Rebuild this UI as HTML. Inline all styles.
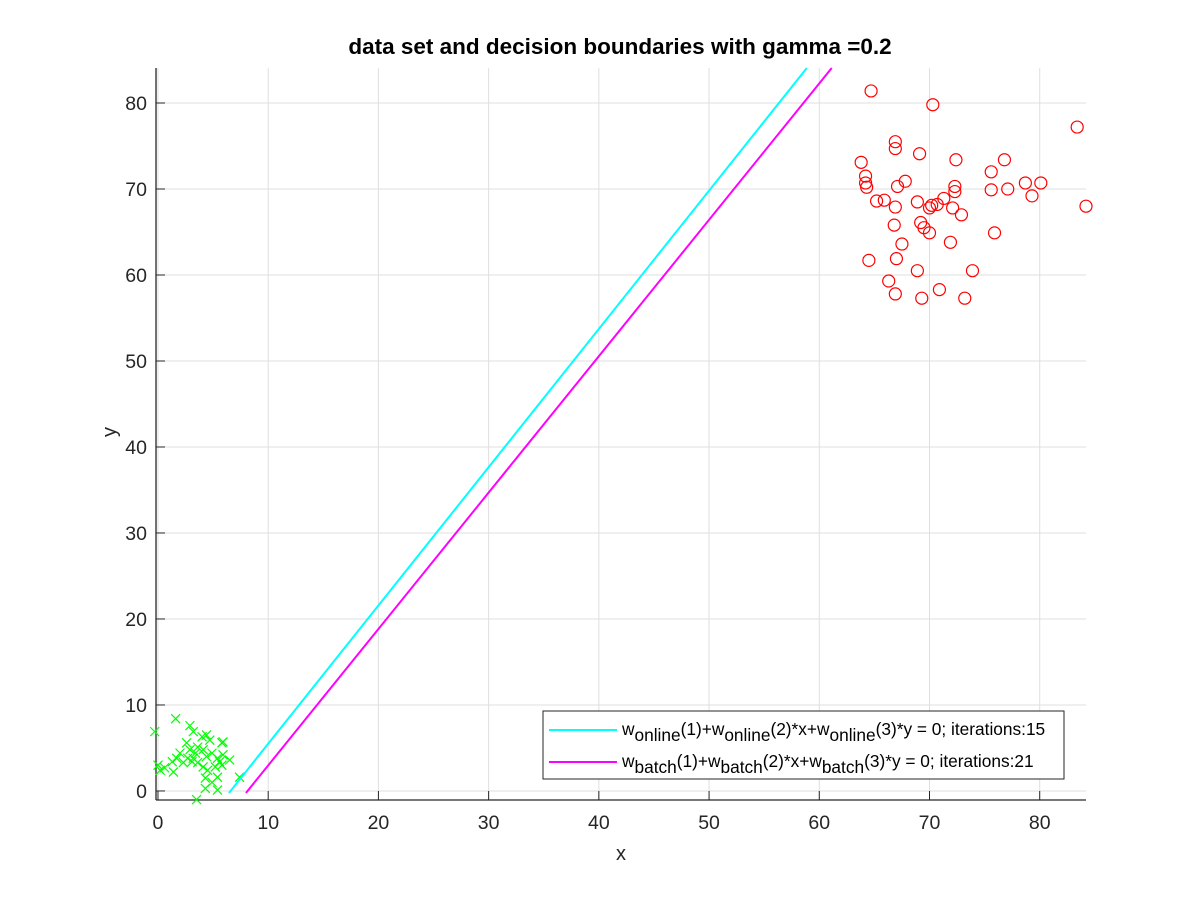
<!DOCTYPE html>
<html><head><meta charset="utf-8"><style>
html,body{margin:0;padding:0;background:#fff;}
svg{display:block;font-family:"Liberation Sans",Arial,sans-serif;}
</style></head><body>
<svg id="chart" width="1200" height="900" viewBox="0 0 1200 900" xmlns="http://www.w3.org/2000/svg">
<rect width="1200" height="900" fill="#fff"/>
<text x="620" y="54" text-anchor="middle" font-size="22.5" font-weight="bold" fill="#000">data set and decision boundaries with gamma =0.2</text>
<g id="grid"></g>
<g id="axes"></g>
<g id="marks"></g>
<text x="621" y="860" text-anchor="middle" font-size="20" fill="#262626">x</text>
<text transform="translate(116,432) rotate(-90)" text-anchor="middle" font-size="20" fill="#262626">y</text>
<g>
<rect x="543" y="711" width="521" height="68" fill="#fff" stroke="#262626" stroke-width="1"/>
<line x1="549" y1="730" x2="617" y2="730" stroke="#00ffff" stroke-width="2"/>
<line x1="549" y1="762" x2="617" y2="762" stroke="#ff00ff" stroke-width="2"/>
<text x="622" y="735" font-size="17.3" fill="#000">w<tspan dy="6">online</tspan><tspan dy="-6">(1)+w</tspan><tspan dy="6">online</tspan><tspan dy="-6">(2)*x+w</tspan><tspan dy="6">online</tspan><tspan dy="-6">(3)*y = 0; iterations:15</tspan></text>
<text x="622" y="767" font-size="17.3" fill="#000">w<tspan dy="6">batch</tspan><tspan dy="-6">(1)+w</tspan><tspan dy="6">batch</tspan><tspan dy="-6">(2)*x+w</tspan><tspan dy="6">batch</tspan><tspan dy="-6">(3)*y = 0; iterations:21</tspan></text>
</g>
</svg>
<script>
const xTicks=[0,10,20,30,40,50,60,70,80];
const yTicks=[0,10,20,30,40,50,60,70,80];
const redX=[64.7,70.3,83.4,66.9,66.9,69.1,63.8,72.4,76.8,75.6,64.2,64.2,64.3,67.1,67.8,78.7,80.1,75.6,77.1,72.3,72.3,65.2,65.9,66.9,68.9,70.0,70.2,70.7,71.3,72.1,79.3,84.2,72.9,66.8,69.2,69.5,70.0,67.5,71.9,75.9,64.5,67.0,68.9,73.9,66.3,66.9,70.9,69.3,73.2];
const redY=[81.4,79.8,77.2,75.5,74.7,74.1,73.1,73.4,73.4,72.0,71.5,70.7,70.2,70.3,70.9,70.7,70.7,69.9,70.0,70.3,69.7,68.6,68.7,67.9,68.5,67.8,68.1,68.2,68.9,67.8,69.2,68.0,67.0,65.8,66.1,65.5,64.9,63.6,63.8,64.9,61.7,61.9,60.5,60.5,59.3,57.8,58.3,57.3,57.3];
const greenX=[1.6,-0.3,2.9,3.2,4.4,4.0,4.7,5.9,5.8,2.6,0,0.2,0.6,1.3,1.4,1.7,2.3,2.0,2.9,3.4,3.6,4.1,4.4,4.9,5.4,5.6,5.9,6.5,3.1,3.6,4.1,4.5,5.2,5.8,4.3,5.4,4.9,5.4,4.3,7.4,3.5,2.7,3.2];
const greenY=[8.4,6.9,7.6,6.9,6.5,6.3,5.9,5.7,5.6,5.6,3.0,2.4,2.7,3.4,2.2,3.8,3.3,4.4,4.8,4.4,5.1,4.8,4.0,4.4,3.8,3.4,4.2,3.6,3.4,3.3,2.8,2.4,2.8,3.0,1.5,1.6,1.0,0.1,0.3,1.6,-1.0,3.8,3.8];
const onlineLineX=[6.44,58.87];
const onlineLineY=[-0.23,84.07];
const batchLineX=[7.98,61.13];
const batchLineY=[-0.23,84.07];

const X0=-0.18,X1=84.2,Y0=-1.05,Y1=84.07;
const L=156,R=1086,T=68,B=800;
function sx(v){return L+(v-X0)/(X1-X0)*(R-L);}
function sy(v){return B-(v-Y0)/(Y1-Y0)*(B-T);}
const NS="http://www.w3.org/2000/svg";
function mk(tag,attrs,parent){const e=document.createElementNS(NS,tag);for(const k in attrs)e.setAttribute(k,attrs[k]);parent.appendChild(e);return e;}
const grid=document.getElementById('grid'),axes=document.getElementById('axes'),marks=document.getElementById('marks');
xTicks.forEach(t=>{
  const g=mk('line',{x1:sx(t),x2:sx(t),y1:T,y2:B,stroke:'#dfdfdf','stroke-width':1},grid);
  
  
  mk('line',{x1:sx(t),x2:sx(t),y1:B,y2:B-9,stroke:'#262626','stroke-width':1},axes);
  const tx=mk('text',{x:sx(t),y:B+29,'text-anchor':'middle','font-size':19.5,fill:'#262626'},axes);
  tx.textContent=t;
  
  
});
yTicks.forEach(t=>{
  const g=mk('line',{x1:L,x2:R,y1:sy(t),y2:sy(t),stroke:'#dfdfdf','stroke-width':1},grid);
  
  
  mk('line',{x1:L,x2:L+9,y1:sy(t),y2:sy(t),stroke:'#262626','stroke-width':1},axes);
  const tx=mk('text',{x:L-9,y:sy(t)+7,'text-anchor':'end','font-size':19.5,fill:'#262626'},axes);
  tx.textContent=t;
  
  
});
mk('line',{x1:L,x2:L,y1:T,y2:B,stroke:'#262626','stroke-width':1.3},axes);
mk('line',{x1:L,x2:R,y1:B,y2:B,stroke:'#262626','stroke-width':1.3},axes);
greenX.forEach((v,i)=>{
  const x=sx(v),y=sy(greenY[i]),d=4.5;
  const p=mk('path',{d:`M${x-d},${y-d}L${x+d},${y+d}M${x-d},${y+d}L${x+d},${y-d}`,stroke:'#00ff00','stroke-width':1.2,fill:'none'},marks);
  
  
});
redX.forEach((v,i)=>{
  const c=mk('circle',{cx:sx(v),cy:sy(redY[i]),r:6,stroke:'#ff0000','stroke-width':1.2,fill:'none'},marks);
  
  
});
const l1=mk('line',{x1:sx(onlineLineX[0]),y1:sy(onlineLineY[0]),x2:sx(onlineLineX[1]),y2:sy(onlineLineY[1]),stroke:'#00ffff','stroke-width':2},marks);


const l2=mk('line',{x1:sx(batchLineX[0]),y1:sy(batchLineY[0]),x2:sx(batchLineX[1]),y2:sy(batchLineY[1]),stroke:'#ff00ff','stroke-width':2},marks);


</script>
</body></html>
